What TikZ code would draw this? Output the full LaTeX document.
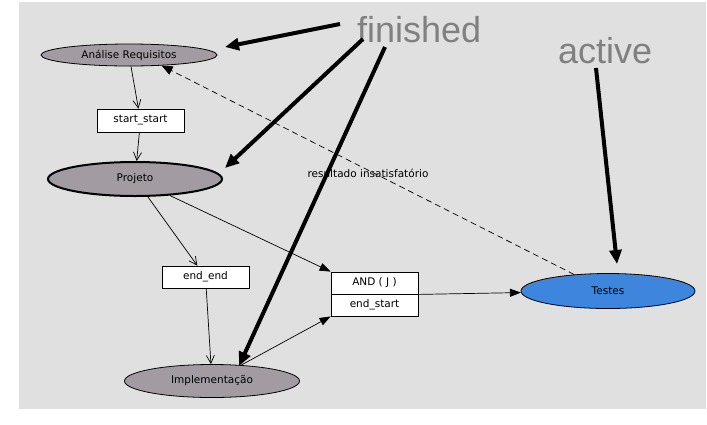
\documentclass[tikz,border=0pt]{standalone}
\usepackage{fontspec}
\setmainfont{DejaVu Sans}
\newfontfamily\notefont{Liberation Sans}
\usetikzlibrary{arrows.meta,shapes.geometric}

\definecolor{canvasgrey}{HTML}{E0E0E0}
\definecolor{taskfill}{HTML}{A29CA2}
\definecolor{activefill}{HTML}{3D85DD}
\definecolor{notegrey}{HTML}{808080}

\tikzset{
  task/.style={ellipse, draw=black, fill=taskfill, line width=0.8pt, inner sep=0pt,
    font=\fontsize{10.5}{12}\selectfont},
  linkbox/.style={rectangle, draw=black, fill=white, line width=0.8pt, inner sep=0pt,
    minimum width=87pt, minimum height=22pt, font=\fontsize{10.5}{12}\selectfont},
  openlink/.style={draw=black, line width=0.7pt, -{Straight Barb[length=8pt,width=8pt]}},
  solidlink/.style={draw=black, line width=0.7pt, -{Triangle[length=11pt,width=8pt]}},
  backlink/.style={draw=black, line width=0.7pt, dash pattern=on 6pt off 4pt,
    -{Triangle[length=11pt,width=9pt]}},
  pointer/.style={draw=black, line width=4pt, -{Triangle[length=14pt,width=12pt]}},
  note/.style={text=notegrey, font=\notefont\fontsize{36}{40}\selectfont, inner sep=0pt, anchor=base west},
}

\begin{document}
\begin{tikzpicture}[x=1pt,y=-1pt]
\useasboundingbox (0,0) rectangle (707,424);
\fill[white] (0,0) rectangle (707,424);
\fill[canvasgrey] (19,2) rectangle (706,409);

% activities
\node[task, minimum width=176pt, minimum height=22pt] (ana) at (129,55) {Análise Requisitos};
\node[task, minimum width=174pt, minimum height=34pt, line width=2pt] (proj) at (135,179) {Projeto};
\node[task, minimum width=175pt, minimum height=33pt] (impl) at (212,381) {Implementação};
\node[task, minimum width=174pt, minimum height=35pt, fill=activefill] (test) at (608,291) {Testes};

% dependency boxes
\node[linkbox, minimum height=23pt] (ss) at (140.5,120.5) {start\_start};
\node[linkbox] (ee) at (205.5,277) {end\_end};
\node[linkbox] (andj) at (374.5,283) {AND ( J )};
\node[linkbox] (es) at (374.5,305) {end\_start};

% dependencies
\draw[openlink] (ana) -- (ss);
\draw[openlink] (ss) -- (proj);
\draw[openlink] (proj) -- (ee);
\draw[openlink] (ee) -- (impl);
\draw[solidlink] (proj) -- (andj.north west);
\draw[solidlink] (impl) -- (es.south west);
\draw[solidlink] (andj.south east) -- (test);
\draw[backlink] (test.154) -- (ana.-18);
\node[font=\fontsize{10.5}{12}\selectfont, inner sep=0pt] (fail) at (368,173) {resultado insatisfatório};

% state annotations
\node[note] (fin) at (357,42) {finished};
\node[note] (act) at (558,63) {active};
\coordinate (fa) at (340,24);
\coordinate (fb) at (363,39);
\coordinate (fc) at (385,47);
\coordinate (aa) at (596,68);
\coordinate (ta) at (225,47);
\coordinate (tb) at (225,168);
\coordinate (tc) at (239,366);
\coordinate (td) at (617,264);
\draw[pointer] (fa) -- (ta);
\draw[pointer] (fb) -- (tb);
\draw[pointer] (fc) -- (tc);
\draw[pointer] (aa) -- (td);
\end{tikzpicture}
\end{document}
